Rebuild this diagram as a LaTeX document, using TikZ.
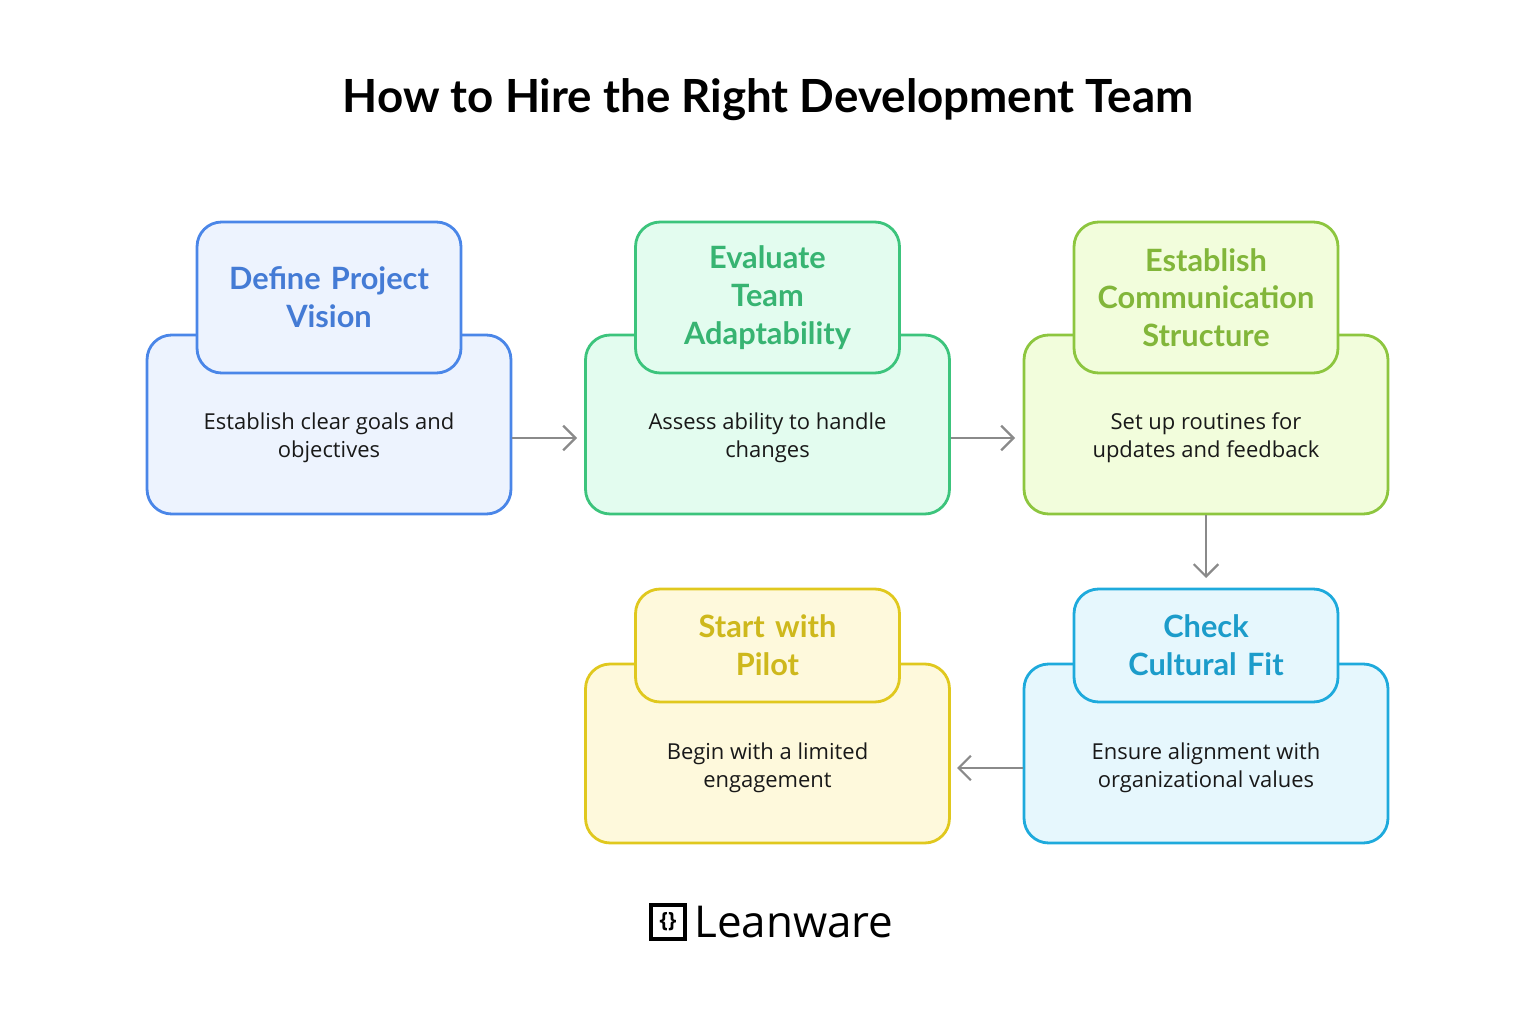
\documentclass[tikz,border=0pt]{standalone}
\usepackage{fontspec}
\setmainfont{Open Sans}
\newfontfamily\headfont{Lato}
\usetikzlibrary{positioning,arrows.meta}
\definecolor{blueS}{HTML}{4A86E8}\definecolor{blueF}{HTML}{EDF3FE}
\definecolor{greenS}{HTML}{3CC47C}\definecolor{greenF}{HTML}{E3FCEF}
\definecolor{limeS}{HTML}{8DC63F}\definecolor{limeF}{HTML}{F2FDDC}
\definecolor{cyanS}{HTML}{1EAADC}\definecolor{cyanF}{HTML}{E6F7FD}
\definecolor{yelS}{HTML}{E0C81E}\definecolor{yelF}{HTML}{FEF9DC}
\definecolor{arrowgray}{HTML}{8A8A8A}
\tikzset{
  base/.style={draw=#1S, fill=#1F, line width=1.6pt, rounded corners=14pt, inner sep=0pt},
  bigbox/.style={base=#1, minimum width=7.28cm, minimum height=3.58cm},
  headbox/.style={base=#1, minimum width=5.28cm, text width=5cm, align=center,
    text=#1S!92!black, font=\headfont\bfseries\fontsize{17.5}{21.5}\selectfont},
  body/.style={align=center, font=\fontsize{12.5}{16}\selectfont, text=black!90},
  flow/.style={-{Straight Barb[length=7pt,width=14pt]}, arrowgray, line width=1.3pt}
}
\begin{document}
\begin{tikzpicture}[x=0.02cm, y=-0.02cm]
  \useasboundingbox (0,0) rectangle (1536,1024);
  % title
  \node[font=\headfont\bfseries\fontsize{26}{30}\selectfont] (title) at (768,100) {How to Hire the Right Development Team};

  % row 1
  \node[bigbox=blue] (define) at (329,424.5) {};
  \node[headbox=blue, minimum height=3.02cm] (defineH) at (329,297.5) {Define Project\\Vision};
  \node[body] at (329,438) {Establish clear goals and\\objectives};

  \node[bigbox=green] (evaluate) at (767.5,424.5) {};
  \node[headbox=green, minimum height=3.02cm] (evaluateH) at (767.5,297.5) {Evaluate\\Team\\Adaptability};
  \node[body] at (767.5,438) {Assess ability to handle\\changes};

  \node[bigbox=lime] (establish) at (1206,424.5) {};
  \node[headbox=lime, minimum height=3.02cm] (establishH) at (1206,297.5) {Establish\\Communication\\Structure};
  \node[body] at (1206,438) {Set up routines for\\updates and feedback};

  % row 2
  \node[bigbox=cyan] (check) at (1206,753.5) {};
  \node[headbox=cyan, minimum height=2.26cm] (checkH) at (1206,645.5) {Check\\Cultural Fit};
  \node[body] at (1206,768) {Ensure alignment with\\organizational values};

  \node[bigbox=yel] (pilot) at (767.5,753.5) {};
  \node[headbox=yel, minimum height=2.26cm] (pilotH) at (767.5,645.5) {Start with\\Pilot};
  \node[body] at (767.5,768) {Begin with a limited\\engagement};

  % arrows
  \draw[flow] (define.east |- 0,438) -- (577,438);
  \draw[flow] (evaluate.east |- 0,438) -- (1015,438);
  \draw[flow] (establish.south) -- (1206,578);
  \draw[flow] (check.west |- 0,768) -- (957,768);

  % logo
  \node[draw, line width=2.4pt, minimum width=0.68cm, minimum height=0.68cm, inner sep=0pt,
        font=\bfseries\fontsize{12}{12}\selectfont] (logoicon) at (668,922) {\{\}};
  \node[right=4pt of logoicon, inner sep=0pt, font=\fontsize{25}{25}\selectfont] (logo) {Leanware};
\end{tikzpicture}
\end{document}
